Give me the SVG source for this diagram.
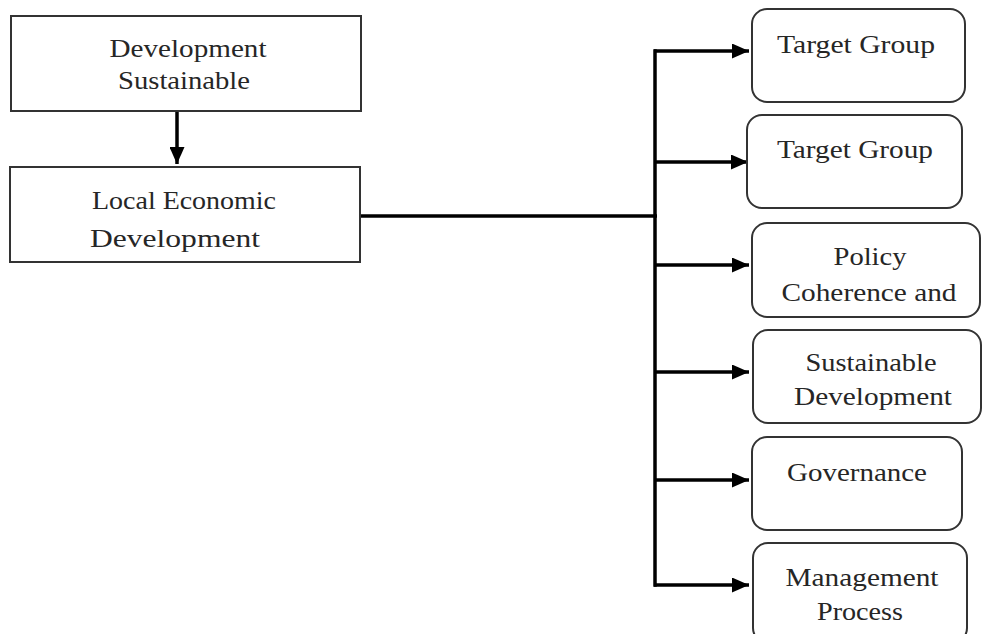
<svg xmlns="http://www.w3.org/2000/svg" width="982" height="634" viewBox="0 0 982 634">
<defs>
<style>
.box{fill:#fff;stroke:#333;stroke-width:2}
.t{font-family:"Liberation Serif","Times New Roman",serif;font-size:26px;fill:#262626;text-anchor:middle}
.c{fill:none;stroke:#000;stroke-width:3.5}
</style>
<marker id="ah" markerUnits="userSpaceOnUse" markerWidth="17" markerHeight="15" refX="17" refY="7.5" orient="auto">
<path d="M0,0 L17,7.5 L0,15 Z" fill="#000"/>
</marker>
</defs>
<rect width="982" height="634" fill="#fff"/>
<g id="connectors">
<line class="c" x1="177" y1="111" x2="177" y2="164" marker-end="url(#ah)"/>
<line class="c" x1="360" y1="216" x2="657" y2="216"/>
<line class="c" x1="655" y1="49.3" x2="655" y2="586.7"/>
<line class="c" x1="654" y1="51" x2="749" y2="51" marker-end="url(#ah)"/>
<line class="c" x1="654" y1="162" x2="748" y2="162" marker-end="url(#ah)"/>
<line class="c" x1="654" y1="265" x2="749" y2="265" marker-end="url(#ah)"/>
<line class="c" x1="654" y1="372" x2="749" y2="372" marker-end="url(#ah)"/>
<line class="c" x1="654" y1="480" x2="749" y2="480" marker-end="url(#ah)"/>
<line class="c" x1="654" y1="585" x2="749" y2="585" marker-end="url(#ah)"/>
</g>
<g id="n1">
<rect class="box" x="11" y="16" width="350" height="95"/>
<text class="t" x="188" y="57" textLength="157" lengthAdjust="spacingAndGlyphs">Development</text>
<text class="t" x="184" y="89" textLength="132" lengthAdjust="spacingAndGlyphs">Sustainable</text>
</g>
<g id="n2">
<rect class="box" x="10" y="167" width="350" height="95"/>
<text class="t" x="184" y="209" textLength="184" lengthAdjust="spacingAndGlyphs">Local Economic</text>
<text class="t" x="175" y="247" textLength="170" lengthAdjust="spacingAndGlyphs">Development</text>
</g>
<g id="r1">
<rect class="box" x="752" y="9" width="213" height="93" rx="15"/>
<text class="t" x="856" y="53" textLength="158" lengthAdjust="spacingAndGlyphs">Target Group</text>
</g>
<g id="r2">
<rect class="box" x="747" y="115" width="215" height="93" rx="15"/>
<text class="t" x="855" y="158" textLength="156" lengthAdjust="spacingAndGlyphs">Target Group</text>
</g>
<g id="r3">
<rect class="box" x="752" y="223" width="228" height="94" rx="15"/>
<text class="t" x="870" y="265" textLength="73" lengthAdjust="spacingAndGlyphs">Policy</text>
<text class="t" x="869" y="301" textLength="175" lengthAdjust="spacingAndGlyphs">Coherence and</text>
</g>
<g id="r4">
<rect class="box" x="753" y="330" width="228" height="93" rx="15"/>
<text class="t" x="871" y="371" textLength="131" lengthAdjust="spacingAndGlyphs">Sustainable</text>
<text class="t" x="873" y="405" textLength="158" lengthAdjust="spacingAndGlyphs">Development</text>
</g>
<g id="r5">
<rect class="box" x="752" y="437" width="210" height="93" rx="15"/>
<text class="t" x="857" y="481" textLength="140" lengthAdjust="spacingAndGlyphs">Governance</text>
</g>
<g id="r6">
<rect class="box" x="753" y="543" width="214" height="100" rx="15"/>
<text class="t" x="862" y="586" textLength="153" lengthAdjust="spacingAndGlyphs">Management</text>
<text class="t" x="860" y="620" textLength="86" lengthAdjust="spacingAndGlyphs">Process</text>
</g>
</svg>
